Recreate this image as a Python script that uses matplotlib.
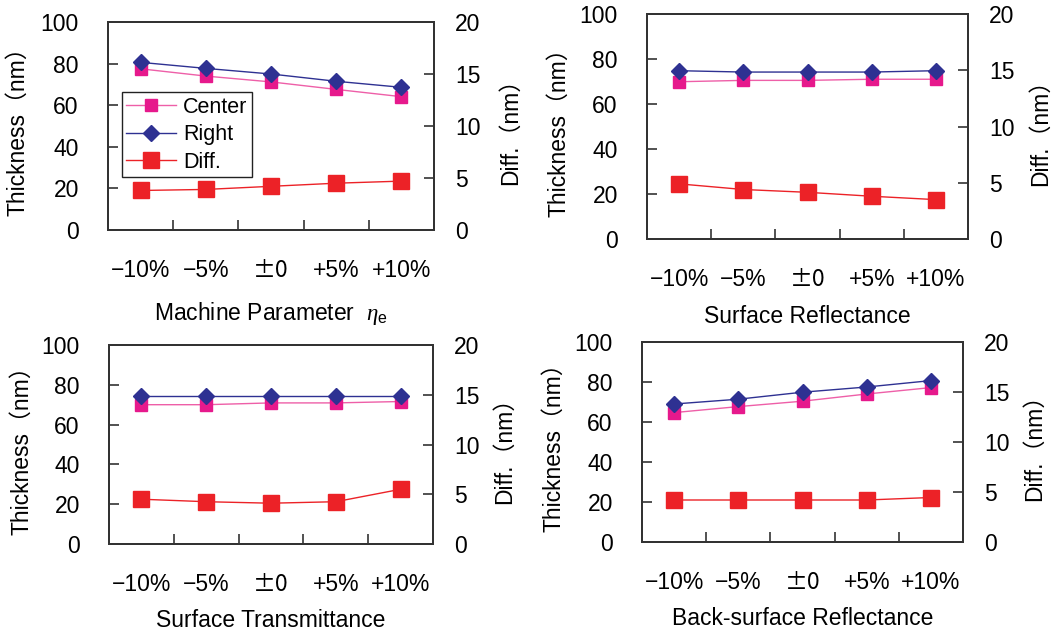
import matplotlib
matplotlib.use("Agg")
import matplotlib.pyplot as plt

plt.rcParams['font.family'] = ['Liberation Sans', 'Noto Sans CJK JP', 'DejaVu Sans']
plt.rcParams['mathtext.fontset'] = 'custom'
plt.rcParams['mathtext.rm'] = 'Liberation Sans'
plt.rcParams['mathtext.it'] = 'Liberation Serif:italic'

categories = ["\u221210%", "\u22125%", "\u00b10", "+5%", "+10%"]

xlabels = ["Machine Parameter  $\\mathit{\\eta}_\\mathrm{e}$", "Surface Reflectance",
           "Surface Transmittance", "Back-surface Reflectance"]

center_p1 = [77.5, 74.0, 71.2, 67.6, 64.1]
right_p1 = [80.6, 77.7, 75.0, 71.5, 68.6]
diff_p1 = [3.8, 3.9, 4.2, 4.5, 4.7]

center_p2 = [69.9, 70.5, 70.5, 71.0, 71.0]
right_p2 = [74.8, 74.2, 74.2, 74.2, 74.8]
diff_p2 = [4.9, 4.4, 4.15, 3.8, 3.5]

center_p3 = [70.0, 70.0, 70.9, 70.9, 71.6]
right_p3 = [74.6, 74.6, 74.6, 74.6, 74.6]
diff_p3 = [4.5, 4.25, 4.1, 4.25, 5.5]

center_p4 = [64.7, 67.7, 70.4, 74.0, 77.2]
right_p4 = [69.0, 71.4, 74.9, 77.5, 80.7]
diff_p4 = [4.2, 4.2, 4.2, 4.2, 4.45]

centers = [center_p1, center_p2, center_p3, center_p4]
rights = [right_p1, right_p2, right_p3, right_p4]
diffs = [diff_p1, diff_p2, diff_p3, diff_p4]

W, H = 1060, 631
# pixel boxes (x0, x1, ytop, ybottom)
boxes = [(108, 434, 22, 230), (647, 968, 14, 239),
         (109, 433, 345, 544), (642, 963, 342, 542)]
left_label_x = [-0.24, -0.24, -0.235, -0.24]
right_label_x = [1.20, 1.19, 1.185, 1.187]
xlabel_pads = [13, 10, 9.5, 9.5]

C_PINK = '#E6198C'
C_PINK_L = '#EE5FA8'
C_NAVY = '#2E3192'
C_RED = '#EC2227'
SPINE = '#333333'
FS = 16.5

fig = plt.figure(figsize=(W / 100, H / 100), dpi=100)

for i, (x0, x1, yt, yb) in enumerate(boxes):
    ax = fig.add_axes([x0 / W, 1 - yb / H, (x1 - x0) / W, (yb - yt) / H])
    ax2 = ax.twinx()
    xs = list(range(len(categories)))
    lc, = ax.plot(xs, centers[i], color=C_PINK_L, lw=1.0, marker='s', ms=9,
                  mfc=C_PINK, mec=C_PINK, zorder=3)
    lr, = ax.plot(xs, rights[i], color=C_NAVY, lw=1.0, marker='D', ms=8,
                  mfc=C_NAVY, mec=C_NAVY, zorder=4)
    ld, = ax2.plot(xs, diffs[i], color=C_RED, lw=1.0, marker='s', ms=12,
                   mfc=C_RED, mec=C_RED, zorder=3)
    ax.set_xlim(-0.5, 4.5)
    ax.set_ylim(0, 100)
    ax2.set_ylim(0, 20)
    ax.set_yticks([0, 20, 40, 60, 80, 100])
    ax2.set_yticks([0, 5, 10, 15, 20])
    ax.set_xticks([0.5, 1.5, 2.5, 3.5], minor=False)
    ax.set_xticklabels([])
    ax.set_xticks(xs, minor=True)
    tls = ax.set_xticklabels(categories, minor=True, fontsize=FS)
    for t in tls:
        if t.get_text().startswith("\u00b1"):
            t.set_family(['Noto Sans CJK JP', 'Liberation Sans'])
    ax.tick_params(axis='x', which='major', direction='in', length=7,
                   width=1.2, color=SPINE)
    ax.tick_params(axis='x', which='minor', length=0, pad=21)
    ax.tick_params(axis='y', direction='in', length=7, width=1.2,
                   color=SPINE, labelsize=FS, pad=21)
    ax2.tick_params(axis='y', direction='in', length=7, width=1.2,
                    color=SPINE, labelsize=FS, pad=15)
    for a in (ax, ax2):
        for s in a.spines.values():
            s.set_color(SPINE)
            s.set_linewidth(1.4)
    ax.set_ylabel("Thickness\uff08nm\uff09", fontsize=FS)
    ax.yaxis.set_label_coords(left_label_x[i], 0.5)
    ax2.set_ylabel("Diff.\uff08nm\uff09", fontsize=FS)
    ax2.yaxis.set_label_coords(right_label_x[i], 0.5)
    ax.set_xlabel(xlabels[i], fontsize=FS, labelpad=xlabel_pads[i])
    if i == 0:
        leg = ax2.legend([lc, lr, ld], ["Center", "Right", "Diff."],
                         loc='lower left', bbox_to_anchor=(0.043, 0.255, 0.40, 0.42),
                         mode='expand', fontsize=15.5, frameon=True, fancybox=False,
                         borderaxespad=0, handlelength=2.3, handletextpad=0.35,
                         labelspacing=0.3, borderpad=0.2, framealpha=1)
        leg.get_frame().set_edgecolor('#222222')
        leg.get_frame().set_linewidth(1.0)
        leg.set_zorder(10)

fig.savefig("out.png", dpi=100)
